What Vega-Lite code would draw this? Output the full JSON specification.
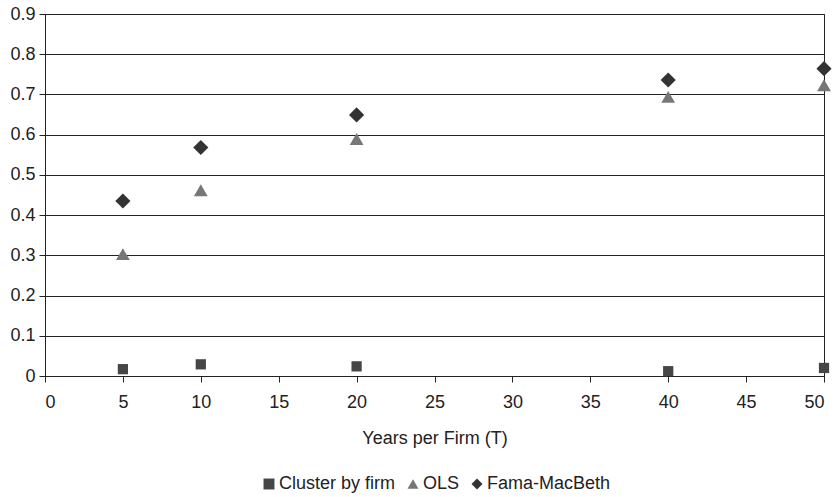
{
  "$schema": "https://vega.github.io/schema/vega-lite/v6.json",
  "autosize": "none",
  "width": 779,
  "height": 362,
  "padding": {"left": 45, "top": 14, "right": 14, "bottom": 121},
  "background": "white",
  "config": {
    "font": "Liberation Sans",
    "view": {"stroke": "#222", "strokeWidth": 1},
    "axis": {"labelFontSize": 18, "titleFontSize": 18, "labelColor": "#222", "titleColor": "#222", "titleFontWeight": "normal"},
    "legend": {"labelFontSize": 18, "labelColor": "#222"}
  },
  "data": {
    "values": [
      {"T": 5, "series": "Cluster by firm", "value": 0.017},
      {"T": 10, "series": "Cluster by firm", "value": 0.029},
      {"T": 20, "series": "Cluster by firm", "value": 0.024},
      {"T": 40, "series": "Cluster by firm", "value": 0.012},
      {"T": 50, "series": "Cluster by firm", "value": 0.02},
      {"T": 5, "series": "OLS", "value": 0.303},
      {"T": 10, "series": "OLS", "value": 0.462},
      {"T": 20, "series": "OLS", "value": 0.589},
      {"T": 40, "series": "OLS", "value": 0.694},
      {"T": 50, "series": "OLS", "value": 0.723},
      {"T": 5, "series": "Fama-MacBeth", "value": 0.435},
      {"T": 10, "series": "Fama-MacBeth", "value": 0.568},
      {"T": 20, "series": "Fama-MacBeth", "value": 0.649},
      {"T": 40, "series": "Fama-MacBeth", "value": 0.736},
      {"T": 50, "series": "Fama-MacBeth", "value": 0.764}
    ]
  },
  "encoding": {
    "x": {
      "field": "T", "type": "quantitative",
      "scale": {"domain": [0, 50], "nice": false},
      "axis": {
        "title": "Years per Firm (T)", "values": [0,5,10,15,20,25,30,35,40,45,50],
        "grid": false, "domainColor": "#222", "tickColor": "#222", "tickSize": 6,
        "labelPadding": 11, "titlePadding": 18
      }
    },
    "y": {
      "field": "value", "type": "quantitative",
      "scale": {"domain": [0, 0.9], "nice": false},
      "axis": {
        "title": null, "values": [0,0.1,0.2,0.3,0.4,0.5,0.6,0.7,0.8,0.9],
        "grid": true, "gridColor": "#222", "gridOpacity": 1,
        "domainColor": "#222", "tickColor": "#222", "tickSize": 6,
        "labelPadding": 4,
        "labelExpr": "datum.value == 0 ? '0' : format(datum.value, '.1f')"
      }
    },
    "shape": {
      "field": "series", "type": "nominal",
      "scale": {"domain": ["Cluster by firm", "OLS", "Fama-MacBeth"], "range": ["square", "triangle-up", "diamond"]},
      "legend": {
        "title": null, "orient": "none", "direction": "horizontal",
        "legendX": 215, "legendY": 461,
        "symbolSize": 120, "columnPadding": 8, "labelOffset": 1, "symbolOpacity": 1
      }
    },
    "color": {
      "field": "series", "type": "nominal",
      "scale": {"domain": ["Cluster by firm", "OLS", "Fama-MacBeth"], "range": ["#464646", "#777777", "#333333"]},
      "legend": {
        "title": null, "orient": "none", "direction": "horizontal",
        "legendX": 215, "legendY": 461,
        "symbolSize": 120, "columnPadding": 8, "labelOffset": 1, "symbolOpacity": 1
      }
    }
  },
  "layer": [
    {
      "transform": [{"filter": "datum.series == 'Cluster by firm'"}],
      "mark": {"type": "point", "filled": true, "opacity": 1, "clip": false, "size": 105}
    },
    {
      "transform": [{"filter": "datum.series == 'OLS'"}],
      "mark": {"type": "point", "filled": true, "opacity": 1, "clip": false, "size": 190}
    },
    {
      "transform": [{"filter": "datum.series == 'Fama-MacBeth'"}],
      "mark": {"type": "point", "filled": true, "opacity": 1, "clip": false, "size": 230}
    }
  ]
}
